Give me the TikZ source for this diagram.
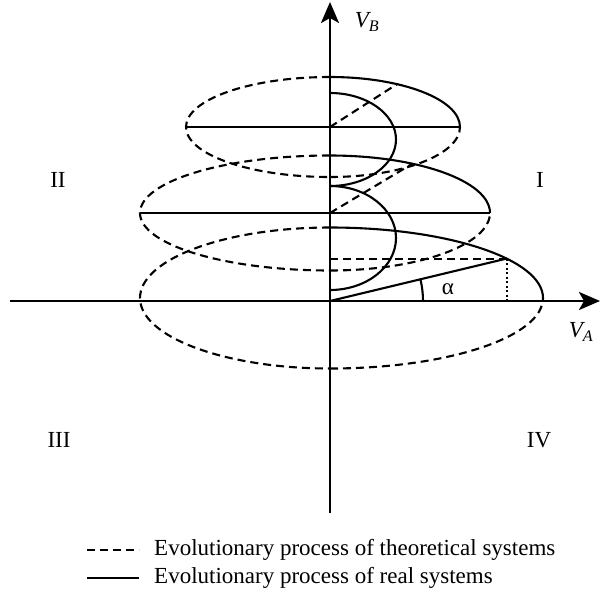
\documentclass[tikz,border=0pt]{standalone}
\usepackage{fontspec}
\setmainfont{Liberation Serif}
\usetikzlibrary{arrows.meta}

\tikzset{
  axisline/.style={line width=2.5pt, -{Stealth[length=21pt,width=18pt,inset=5pt]}},
  realline/.style={line width=2.1pt},
  theory/.style={line width=2.1pt, dash pattern=on 8pt off 5pt},
  projline/.style={line width=2pt, dash pattern=on 2pt off 2.5pt},
  bigtext/.style={font=\fontsize{23}{27}\selectfont, inner sep=0pt},
}

\begin{document}
\begin{tikzpicture}[x=1pt, y=-1pt]
\useasboundingbox (0,0) rectangle (603,595);

%--- Axes ---
\coordinate (O) at (330,301);
\coordinate (xs) at (10,301);
\coordinate (xe) at (600,301);
\coordinate (ys) at (330,513);
\coordinate (ye) at (330,2);
\draw[axisline] (xs) -- (xe);
\draw[axisline] (ys) -- (ye);
\node[bigtext] (VB) at (367,22) {\itshape V\textsubscript{B}};
\node[bigtext] (VA) at (581,332) {\itshape V\textsubscript{A}};

% Quadrant numbers
\node[bigtext] (q1) at (540,180) {I};
\node[bigtext] (q2) at (58,180) {II};
\node[bigtext] (q3) at (59,440) {III};
\node[bigtext] (q4) at (539,440) {IV};

%--- Upper two cycles ---
\foreach \cy/\ry/\rl/\rr in {127/50/144/130, 213/57.5/190/160} {
  \coordinate (c) at (330,\cy);
  \draw[theory] (c) ++(0,-\ry) arc[start angle=-90, end angle=-270, x radius=\rl, y radius=\ry];
  \draw[theory] (c) ++(0,\ry) arc[start angle=90, end angle=0, x radius=\rr, y radius=\ry];
  \draw[realline] (c) ++(0,-\ry) arc[start angle=-90, end angle=0, x radius=\rr, y radius=\ry];
  \draw[realline] (c) ++(-\rl,0) -- ++({\rl+\rr},0);
  \draw[theory] (c) -- ++(-59:{\rr} and {\ry});
}

% Inner real curves
\draw[realline] (330,93) arc[start angle=-90, end angle=90, x radius=66, y radius=46.5];
\draw[realline] (330,186) arc[start angle=-90, end angle=90, x radius=66, y radius=52];

%--- Lowest cycle ---
\coordinate (cb) at (330,298);
\draw[theory] (cb) ++(0,-70.5) arc[start angle=-90, end angle=-270, x radius=190, y radius=70.5];
\draw[theory] (cb) ++(0,70.5) arc[start angle=90, end angle=0, x radius=213, y radius=70.5];
\draw[realline] (cb) ++(0,-70.5) arc[start angle=-90, end angle=0, x radius=213, y radius=70.5];
\path (cb) ++(-34:213 and 70.5) coordinate (P);
\draw[realline] (O) -- (P);
\draw[theory] (O |- P) -- (P);
\draw[projline] (P) -- (P |- O);
\draw[realline] (O) ++(93,0) arc[start angle=0, end angle=-13.5, radius=93];
\node[bigtext] (alpha) at (448,289) {α};

%--- Legend ---
\coordinate (l1s) at (87,550);
\coordinate (l1e) at (139,550);
\coordinate (l2s) at (87,578);
\coordinate (l2e) at (139,578);
\draw[theory] (l1s) -- (l1e);
\draw[realline] (l2s) -- (l2e);
\node[bigtext, anchor=west] (leg1) at (154,550) {Evolutionary process of theoretical systems};
\node[bigtext, anchor=west] (leg2) at (154,578) {Evolutionary process of real systems};
\end{tikzpicture}
\end{document}
